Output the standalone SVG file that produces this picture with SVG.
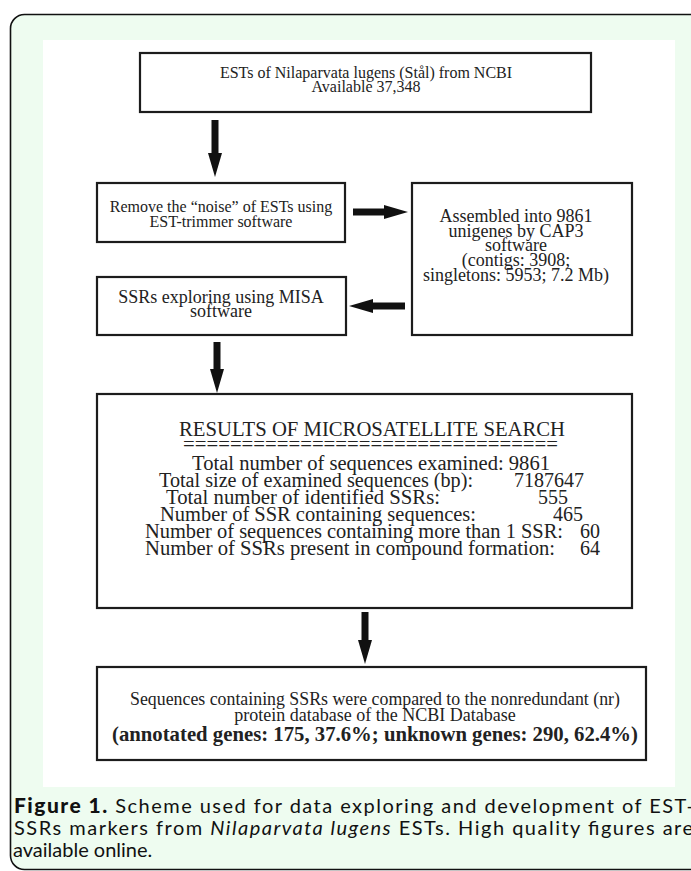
<svg xmlns="http://www.w3.org/2000/svg" width="691" height="871" viewBox="0 0 691 871">
<style>
.box{fill:#fff;stroke:#1c1c1c;stroke-width:2.2}
.t{font-family:"Liberation Serif","Times New Roman",serif;fill:#222;text-anchor:middle}
.l{font-family:"Liberation Serif","Times New Roman",serif;fill:#222;font-size:20px}
.n{text-anchor:end}
.arr{stroke:#111;stroke-width:7;fill:none;marker-end:url(#ah)}
.cap{font-family:Lato,"Open Sans",sans-serif;font-size:20px;fill:#111}
</style>
<defs>
<marker id="ah" viewBox="0 0 24 14" markerWidth="24" markerHeight="14" refX="0" refY="7" orient="auto" markerUnits="userSpaceOnUse">
<path d="M0,0 L24,7 L0,14 Z" fill="#111"/>
</marker>
</defs>
<rect x="10.5" y="14.5" width="720" height="855" rx="14" fill="#eefcf0" stroke="#111" stroke-width="1.6"/>
<rect x="43" y="40" width="632" height="747" fill="#fff"/>

<g id="connectors">
<line class="arr" x1="215" y1="120" x2="215" y2="153"/>
<line class="arr" x1="353" y1="212" x2="384" y2="212"/>
<line class="arr" x1="405" y1="306" x2="373" y2="306"/>
<line class="arr" x1="217" y1="342" x2="217" y2="369"/>
<line class="arr" x1="365" y1="612" x2="365" y2="640"/>
</g>

<g id="n1">
<rect class="box" x="140" y="53" width="451" height="59"/>
<text class="t" font-size="16" x="366" y="78">ESTs of Nilaparvata lugens (Stål) from NCBI</text>
<text class="t" font-size="16" x="366" y="92">Available 37,348</text>
</g>

<g id="n2">
<rect class="box" x="97" y="183" width="248" height="59"/>
<text class="t" font-size="16" x="221" y="212">Remove the “noise” of ESTs using</text>
<text class="t" font-size="16" x="221" y="227">EST-trimmer software</text>
</g>

<g id="n3">
<rect class="box" x="412" y="183" width="220" height="152"/>
<text class="t" font-size="18" x="516" y="222">Assembled into 9861</text>
<text class="t" font-size="18" x="516" y="237">unigenes by CAP3</text>
<text class="t" font-size="18" x="516" y="251">software</text>
<text class="t" font-size="18" x="516" y="266">(contigs: 3908;</text>
<text class="t" font-size="18" x="516" y="281">singletons: 5953; 7.2 Mb)</text>
</g>

<g id="n4">
<rect class="box" x="97" y="277" width="249" height="58"/>
<text class="t" font-size="18" x="221" y="303">SSRs exploring using MISA</text>
<text class="t" font-size="18" x="221" y="317">software</text>
</g>

<g id="n5">
<rect class="box" x="97" y="394" width="535" height="214"/>
<text class="l" x="179" y="436" textLength="386" lengthAdjust="spacingAndGlyphs">RESULTS OF MICROSATELLITE SEARCH</text>
<text class="l" x="183" y="451" font-size="13" textLength="375" lengthAdjust="spacingAndGlyphs">================================</text>
<text class="l" x="192" y="470" textLength="358" lengthAdjust="spacingAndGlyphs">Total number of sequences examined: 9861</text>
<text class="l" x="159" y="487" textLength="314" lengthAdjust="spacingAndGlyphs">Total size of examined sequences (bp):</text>
<text class="l n" x="584" y="487">7187647</text>
<text class="l" x="166" y="504" textLength="274" lengthAdjust="spacingAndGlyphs">Total number of identified SSRs:</text>
<text class="l n" x="568" y="504">555</text>
<text class="l" x="160" y="521" textLength="316" lengthAdjust="spacingAndGlyphs">Number of SSR containing sequences:</text>
<text class="l n" x="583" y="521">465</text>
<text class="l" x="145" y="538" textLength="418" lengthAdjust="spacingAndGlyphs">Number of sequences containing more than 1 SSR:</text>
<text class="l n" x="600" y="538">60</text>
<text class="l" x="145" y="555" textLength="410" lengthAdjust="spacingAndGlyphs">Number of SSRs present in compound formation:</text>
<text class="l n" x="600" y="555">64</text>
</g>

<g id="n6">
<rect class="box" x="97" y="667" width="549" height="93"/>
<text class="t" font-size="18" x="375" y="705" textLength="490" lengthAdjust="spacingAndGlyphs">Sequences containing SSRs were compared to the nonredundant (nr)</text>
<text class="t" font-size="18" x="375" y="721">protein database of the NCBI Database</text>
<text class="t" font-size="21" font-weight="bold" fill="#111" x="375" y="741" textLength="526" lengthAdjust="spacingAndGlyphs">(annotated genes: 175, 37.6%; unknown genes: 290, 62.4%)</text>
</g>

<g id="caption">
<text class="cap" x="14" y="813" textLength="680" lengthAdjust="spacing"><tspan font-weight="900" font-size="21">Figure 1.</tspan> Scheme used for data exploring and development of EST-</text>
<text class="cap" x="14" y="835" textLength="679" lengthAdjust="spacing">SSRs markers from <tspan font-style="italic">Nilaparvata lugens</tspan> ESTs. High quality figures are</text>
<text class="cap" x="13" y="857">available online.</text>
</g>
</svg>
